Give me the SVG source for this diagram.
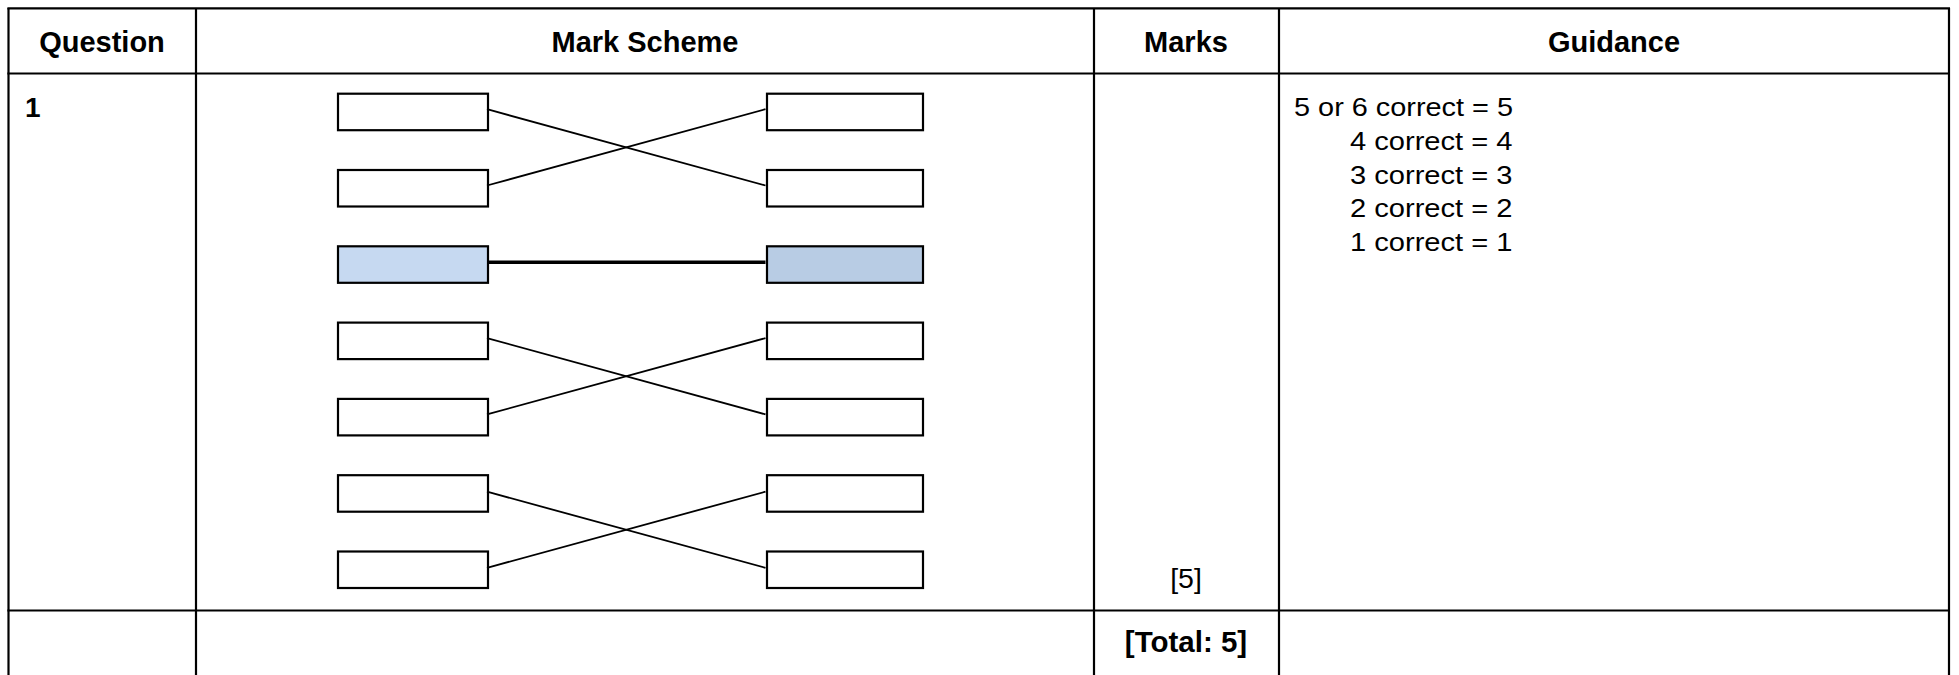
<svg xmlns="http://www.w3.org/2000/svg" width="1959" height="675" viewBox="0 0 1959 675">
<style>
.grid{stroke:#000;stroke-width:2.2;fill:none}
.hdr{font-family:"Liberation Sans",Arial,sans-serif;font-weight:bold;font-size:29px;fill:#000;text-anchor:middle}
.body{font-family:"Liberation Sans",Arial,sans-serif;font-size:26px;fill:#000}
.box{stroke:#000;stroke-width:2.2;fill:#fff}
.conn{stroke:#000;stroke-width:1.8;fill:none}
.thick{stroke:#000;stroke-width:3.6;fill:none}
</style>
<rect width="1959" height="675" fill="#fff"/>
<g id="table">
<line class="grid" x1="8.5" y1="8" x2="8.5" y2="680"/>
<line class="grid" x1="196" y1="8" x2="196" y2="680"/>
<line class="grid" x1="1094" y1="8" x2="1094" y2="680"/>
<line class="grid" x1="1279" y1="8" x2="1279" y2="680"/>
<line class="grid" x1="1949" y1="8" x2="1949" y2="680"/>
<line class="grid" x1="7.4" y1="8.3" x2="1950" y2="8.3"/>
<line class="grid" x1="7.4" y1="73.5" x2="1950" y2="73.5"/>
<line class="grid" x1="7.4" y1="610.5" x2="1950" y2="610.5"/>
</g>
<g id="headers">
<text class="hdr" x="102" y="51.5">Question</text>
<text class="hdr" x="645" y="51.5">Mark Scheme</text>
<text class="hdr" x="1186" y="51.5">Marks</text>
<text class="hdr" x="1614" y="51.5">Guidance</text>
</g>
<g id="qnum"><text class="hdr" x="25" y="117" style="text-anchor:start;font-size:28px">1</text></g>
<g id="left-boxes">
<rect id="L1" class="box" x="338" y="93.7" width="150" height="36.5"/>
<rect id="L2" class="box" x="338" y="170" width="150" height="36.5"/>
<rect id="L3" class="box" x="338" y="246.3" width="150" height="36.5" style="fill:#c6d9f1"/>
<rect id="L4" class="box" x="338" y="322.6" width="150" height="36.5"/>
<rect id="L5" class="box" x="338" y="398.9" width="150" height="36.5"/>
<rect id="L6" class="box" x="338" y="475.2" width="150" height="36.5"/>
<rect id="L7" class="box" x="338" y="551.5" width="150" height="36.5"/>
</g>
<g id="right-boxes">
<rect id="R1" class="box" x="767" y="93.7" width="156" height="36.5"/>
<rect id="R2" class="box" x="767" y="170" width="156" height="36.5"/>
<rect id="R3" class="box" x="767" y="246.3" width="156" height="36.5" style="fill:#b8cce4"/>
<rect id="R4" class="box" x="767" y="322.6" width="156" height="36.5"/>
<rect id="R5" class="box" x="767" y="398.9" width="156" height="36.5"/>
<rect id="R6" class="box" x="767" y="475.2" width="156" height="36.5"/>
<rect id="R7" class="box" x="767" y="551.5" width="156" height="36.5"/>
</g>
<g id="connectors">
<line class="conn" x1="487" y1="109.2" x2="765.5" y2="185.5"/>
<line class="conn" x1="487" y1="185.5" x2="765.5" y2="109.2"/>
<line class="thick" x1="487" y1="262.3" x2="765.5" y2="262.3"/>
<line class="conn" x1="487" y1="338.1" x2="765.5" y2="414.4"/>
<line class="conn" x1="487" y1="414.4" x2="765.5" y2="338.1"/>
<line class="conn" x1="487" y1="491.7" x2="765.5" y2="567.8"/>
<line class="conn" x1="487" y1="567.8" x2="765.5" y2="491.7"/>
</g>
<g id="guidance">
<text class="body" x="1294" y="116" textLength="219" lengthAdjust="spacingAndGlyphs">5 or 6 correct = 5</text>
<text class="body" x="1350" y="150" textLength="162.5" lengthAdjust="spacingAndGlyphs">4 correct = 4</text>
<text class="body" x="1350" y="183.5" textLength="162.5" lengthAdjust="spacingAndGlyphs">3 correct = 3</text>
<text class="body" x="1350" y="217" textLength="162.5" lengthAdjust="spacingAndGlyphs">2 correct = 2</text>
<text class="body" x="1350" y="251" textLength="162.5" lengthAdjust="spacingAndGlyphs">1 correct = 1</text>
</g>
<g id="marks">
<text class="body" x="1186" y="588" style="text-anchor:middle;font-size:28.5px">[5]</text>
<text class="hdr" x="1186" y="652" style="font-size:29.5px">[Total: 5]</text>
</g>
</svg>
